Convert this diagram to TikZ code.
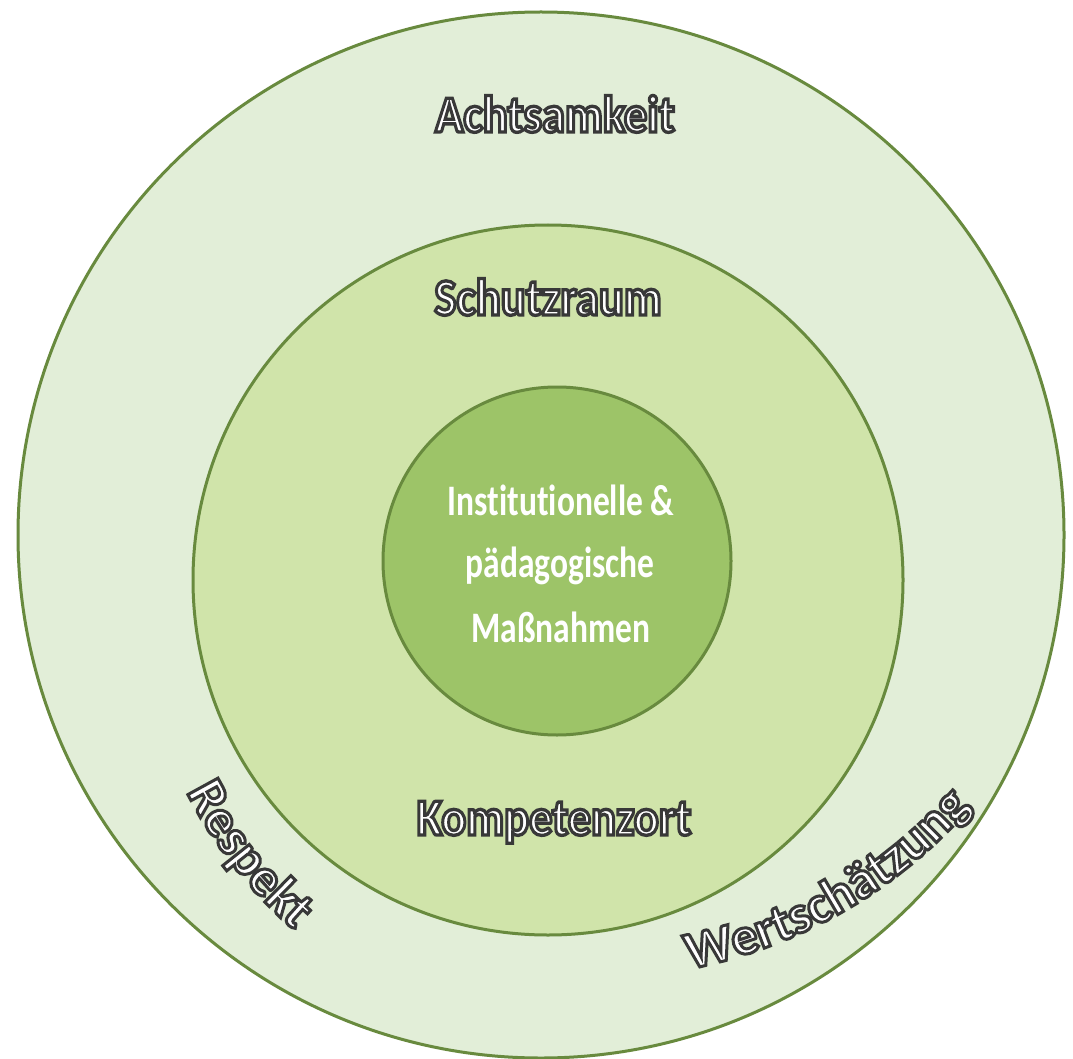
\documentclass[tikz,border=0pt]{standalone}
\usepackage{fontspec}
\setmainfont[Ligatures={NoCommon}]{Carlito}
\usetikzlibrary{decorations.text}
\definecolor{ringA}{RGB}{226,238,216}
\definecolor{ringB}{RGB}{208,228,170}
\definecolor{ringC}{RGB}{157,196,104}
\definecolor{ringline}{RGB}{104,138,62}
\newcommand\olon{\special{pdf:literal direct 0.22 0.22 0.22 RG 2 Tr 3.0 w}}
\newcommand\oloff{\special{pdf:literal direct 0 Tr 1 w}}
\newcommand\olfont{\fontsize{46.5}{56}\selectfont\bfseries}
\newcommand\curvfmt{\fontsize{53}{64}\selectfont\bfseries\color{white}\olon}
\newcommand\vstretch[2]{\scalebox{1}[#1]{#2}}
\begin{document}
\begin{tikzpicture}[x=1pt,y=1pt,
  ring/.style={draw=ringline, line width=3pt},
  outl/.style={font=\olfont, text=white, anchor=base, inner sep=0pt},
  inn/.style={font=\fontsize{33.5}{40}\selectfont\bfseries, text=white, anchor=base, inner sep=0pt},
  arctext/.style={decorate, decoration={text along path, text={|\curvfmt|#1}, text align=center}}]
\useasboundingbox (0,0) rectangle (1073,-1059);
\fill[white] (0,0) rectangle (1073,-1059);
\coordinate (co) at (541,-535);
\draw[ring, fill=ringA] (co) circle[radius=523];
\coordinate (cm) at (548,-580);
\draw[ring, fill=ringB] (cm) circle[radius=355];
\coordinate (ci) at (557,-561);
\draw[ring, fill=ringC] (ci) circle[radius=174];
\node[inn] (i1) at (561,-515) {\vstretch{1.3}{Institutionelle \&}};
\node[inn] (i2) at (560,-577) {\vstretch{1.3}{pädagogische}};
\node[inn] (i3) at (561,-642) {\vstretch{1.3}{Maßnahmen}};
\coordinate (cr) at (590,-588);
\coordinate (cw) at (594,-478);
\path[arctext=Respekt] (cr) ++(198:452) arc[start angle=198, end angle=238, radius=452];
\path[arctext=Wertschätzung] (cw) ++(265:500) arc[start angle=265, end angle=335, radius=500];
\node[outl] (t1) at (555,-132) {\vstretch{1.12}{\olon Achtsamkeit}};
\node[outl] (t2) at (548,-315) {\vstretch{1.12}{\olon Schutzraum}};
\node[outl] (t3) at (554,-835) {\vstretch{1.12}{\olon Kompetenzort\oloff}};
\end{tikzpicture}
\end{document}
